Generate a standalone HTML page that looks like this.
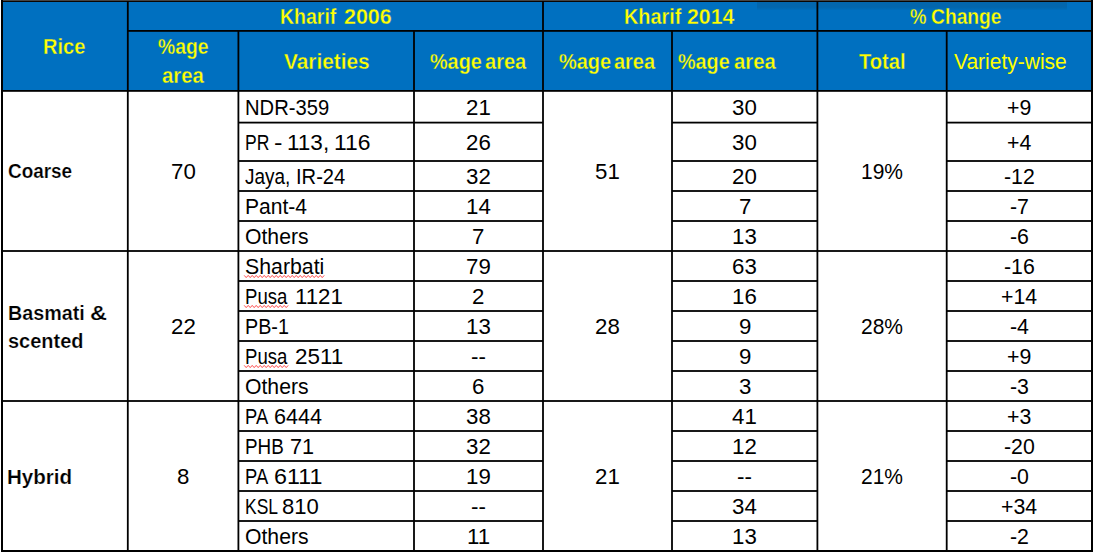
<!DOCTYPE html>
<html lang="en"><head><meta charset="utf-8"><title>Rice varieties table</title>
<style>
html,body{margin:0;padding:0;background:#fff;}
body{width:1095px;height:555px;position:relative;overflow:hidden;font-family:"Liberation Sans",sans-serif;}
#hdr{position:absolute;left:2px;top:1px;width:1090px;height:90px;background:#0070C0;}
#grid{position:absolute;left:0;top:0;}
.t{position:absolute;white-space:nowrap;line-height:normal;transform-origin:0 0;margin:0;padding:0;}
.A{font-weight:bold;font-size:21.5px;color:#FFFF00;-webkit-text-stroke:0.35px #0070C0;}
.B{font-weight:normal;font-size:21.5px;color:#FFFF00;}
.C{font-weight:bold;font-size:19.4px;color:#000;-webkit-text-stroke:0.2px #fff;}
.D{font-weight:normal;font-size:21.5px;color:#000;}
</style></head><body>
<div id="hdr"></div>
<svg id="grid" width="1095" height="555" viewBox="0 0 1095 555">
<defs><linearGradient id="sh" x1="0" y1="0" x2="0" y2="1"><stop offset="0" stop-color="#1a1a10" stop-opacity="0.11"/><stop offset="1" stop-color="#000" stop-opacity="0"/></linearGradient></defs>
<rect x="757" y="0" width="310" height="7" fill="#1a1a10" fill-opacity="0.11"/><rect x="757" y="7" width="310" height="3.5" fill="url(#sh)"/>
<rect x="1" y="0" width="1092" height="1" fill="#444"/>
<rect x="1" y="1" width="1092" height="1" fill="#0a0502"/>
<rect x="1.00" y="0.00" width="2.00" height="552.00" fill="#000"/>
<rect x="1091.00" y="0.00" width="2.00" height="552.00" fill="#000"/>
<rect x="1.00" y="550.00" width="1092.00" height="2.00" fill="#000"/>
<rect x="127.80" y="30.00" width="964.20" height="1.80" fill="#000"/>
<rect x="2.00" y="90.00" width="1090.00" height="1.80" fill="#000"/>
<rect x="126.90" y="1.00" width="1.80" height="550.00" fill="#000"/>
<rect x="542.10" y="1.00" width="1.80" height="550.00" fill="#000"/>
<rect x="816.50" y="1.00" width="1.80" height="550.00" fill="#000"/>
<rect x="237.50" y="30.90" width="1.80" height="520.10" fill="#000"/>
<rect x="413.10" y="30.90" width="1.80" height="520.10" fill="#000"/>
<rect x="671.10" y="30.90" width="1.80" height="520.10" fill="#000"/>
<rect x="945.80" y="30.90" width="1.80" height="520.10" fill="#000"/>
<rect x="2.00" y="250.10" width="1090.00" height="1.80" fill="#000"/>
<rect x="2.00" y="400.10" width="1090.00" height="1.80" fill="#000"/>
<rect x="238.40" y="121.70" width="304.60" height="1.80" fill="#000"/>
<rect x="672.00" y="121.70" width="145.40" height="1.80" fill="#000"/>
<rect x="946.70" y="121.70" width="145.30" height="1.80" fill="#000"/>
<rect x="238.40" y="160.10" width="304.60" height="1.80" fill="#000"/>
<rect x="672.00" y="160.10" width="145.40" height="1.80" fill="#000"/>
<rect x="946.70" y="160.10" width="145.30" height="1.80" fill="#000"/>
<rect x="238.40" y="190.10" width="304.60" height="1.80" fill="#000"/>
<rect x="672.00" y="190.10" width="145.40" height="1.80" fill="#000"/>
<rect x="946.70" y="190.10" width="145.30" height="1.80" fill="#000"/>
<rect x="238.40" y="220.10" width="304.60" height="1.80" fill="#000"/>
<rect x="672.00" y="220.10" width="145.40" height="1.80" fill="#000"/>
<rect x="946.70" y="220.10" width="145.30" height="1.80" fill="#000"/>
<rect x="238.40" y="280.10" width="304.60" height="1.80" fill="#000"/>
<rect x="672.00" y="280.10" width="145.40" height="1.80" fill="#000"/>
<rect x="946.70" y="280.10" width="145.30" height="1.80" fill="#000"/>
<rect x="238.40" y="310.10" width="304.60" height="1.80" fill="#000"/>
<rect x="672.00" y="310.10" width="145.40" height="1.80" fill="#000"/>
<rect x="946.70" y="310.10" width="145.30" height="1.80" fill="#000"/>
<rect x="238.40" y="340.10" width="304.60" height="1.80" fill="#000"/>
<rect x="672.00" y="340.10" width="145.40" height="1.80" fill="#000"/>
<rect x="946.70" y="340.10" width="145.30" height="1.80" fill="#000"/>
<rect x="238.40" y="370.10" width="304.60" height="1.80" fill="#000"/>
<rect x="672.00" y="370.10" width="145.40" height="1.80" fill="#000"/>
<rect x="946.70" y="370.10" width="145.30" height="1.80" fill="#000"/>
<rect x="238.40" y="430.10" width="304.60" height="1.80" fill="#000"/>
<rect x="672.00" y="430.10" width="145.40" height="1.80" fill="#000"/>
<rect x="946.70" y="430.10" width="145.30" height="1.80" fill="#000"/>
<rect x="238.40" y="460.10" width="304.60" height="1.80" fill="#000"/>
<rect x="672.00" y="460.10" width="145.40" height="1.80" fill="#000"/>
<rect x="946.70" y="460.10" width="145.30" height="1.80" fill="#000"/>
<rect x="238.40" y="490.10" width="304.60" height="1.80" fill="#000"/>
<rect x="672.00" y="490.10" width="145.40" height="1.80" fill="#000"/>
<rect x="946.70" y="490.10" width="145.30" height="1.80" fill="#000"/>
<rect x="238.40" y="520.10" width="304.60" height="1.80" fill="#000"/>
<rect x="672.00" y="520.10" width="145.40" height="1.80" fill="#000"/>
<rect x="946.70" y="520.10" width="145.30" height="1.80" fill="#000"/>
<polyline points="244.2,275.4 246.2,277.6 248.2,275.4 250.2,277.6 252.2,275.4 254.2,277.6 256.2,275.4 258.2,277.6 260.2,275.4 262.2,277.6 264.2,275.4 266.2,277.6 268.2,275.4 270.2,277.6 272.2,275.4 274.2,277.6 276.2,275.4 278.2,277.6 280.2,275.4 282.2,277.6 284.2,275.4 286.2,277.6 288.2,275.4 290.2,277.6 292.2,275.4 294.2,277.6 296.2,275.4 298.2,277.6 300.2,275.4 302.2,277.6 304.2,275.4 306.2,277.6 308.2,275.4 310.2,277.6 312.2,275.4 314.2,277.6 316.2,275.4 318.2,277.6 320.2,275.4 322.2,277.6 324.2,275.4" fill="none" stroke="#ff2b2b" stroke-width="0.85" stroke-linejoin="round"/>
<polyline points="244.2,305.4 246.2,307.6 248.2,305.4 250.2,307.6 252.2,305.4 254.2,307.6 256.2,305.4 258.2,307.6 260.2,305.4 262.2,307.6 264.2,305.4 266.2,307.6 268.2,305.4 270.2,307.6 272.2,305.4 274.2,307.6 276.2,305.4 278.2,307.6 280.2,305.4 282.2,307.6 284.2,305.4 286.2,307.6 288.2,305.4" fill="none" stroke="#ff2b2b" stroke-width="0.85" stroke-linejoin="round"/>
<polyline points="244.2,365.4 246.2,367.6 248.2,365.4 250.2,367.6 252.2,365.4 254.2,367.6 256.2,365.4 258.2,367.6 260.2,365.4 262.2,367.6 264.2,365.4 266.2,367.6 268.2,365.4 270.2,367.6 272.2,365.4 274.2,367.6 276.2,365.4 278.2,367.6 280.2,365.4 282.2,367.6 284.2,365.4 286.2,367.6 288.2,365.4" fill="none" stroke="#ff2b2b" stroke-width="0.85" stroke-linejoin="round"/>
</svg>
<span class="t A" style="left:279.79px;top:5.00px;transform:scaleX(0.9074)">Kharif</span>
<span class="t A" style="left:343.56px;top:5.00px;transform:scaleX(0.9977)">2006</span>
<span class="t A" style="left:624.07px;top:5.00px;transform:scaleX(0.9223)">Kharif</span>
<span class="t A" style="left:687.26px;top:5.00px;transform:scaleX(0.9879)">2014</span>
<span class="t A" style="left:909.64px;top:5.00px;transform:scaleX(0.8604)">%</span>
<span class="t A" style="left:930.71px;top:5.00px;transform:scaleX(0.8948)">Change</span>
<span class="t A" style="left:43.26px;top:35.00px;transform:scaleX(0.9320)">Rice</span>
<span class="t A" style="left:157.62px;top:35.30px;transform:scaleX(0.8981)">%age</span>
<span class="t A" style="left:161.51px;top:63.60px;transform:scaleX(0.9441)">area</span>
<span class="t A" style="left:284.36px;top:50.00px;transform:scaleX(0.9688)">Varieties</span>
<span class="t A" style="left:429.71px;top:50.00px;transform:scaleX(0.9218)">%age</span>
<span class="t A" style="left:485.11px;top:50.00px;transform:scaleX(0.9304)">area</span>
<span class="t A" style="left:558.70px;top:50.00px;transform:scaleX(0.9291)">%age</span>
<span class="t A" style="left:614.12px;top:50.00px;transform:scaleX(0.9281)">area</span>
<span class="t A" style="left:678.41px;top:50.00px;transform:scaleX(0.9200)">%age</span>
<span class="t A" style="left:733.81px;top:50.00px;transform:scaleX(0.9418)">area</span>
<span class="t A" style="left:859.27px;top:50.00px;transform:scaleX(0.9355)">Total</span>
<span class="t B" style="left:953.61px;top:50.00px;transform:scaleX(0.9761)">Variety-wise</span>
<span class="t C" style="left:7.72px;top:160.30px;transform:scaleX(0.9753)">Coarse</span>
<span class="t C" style="left:7.78px;top:301.70px;transform:scaleX(1.0183)">Basmati</span>
<span class="t C" style="left:90.37px;top:301.70px;transform:scaleX(1.2117)">&amp;</span>
<span class="t C" style="left:7.90px;top:329.80px;transform:scaleX(1.0291)">scented</span>
<span class="t C" style="left:7.42px;top:465.70px;transform:scaleX(1.0606)">Hybrid</span>
<span class="t D" style="left:244.94px;top:96.10px;transform:scaleX(0.9386)">NDR-359</span>
<span class="t D" style="left:466.12px;top:96.10px;transform:scaleX(1.0350)">21</span>
<span class="t D" style="left:732.32px;top:96.10px;transform:scaleX(1.0350)">30</span>
<span class="t D" style="left:1007.22px;top:96.10px;transform:scaleX(0.9900)">+9</span>
<span class="t D" style="left:244.86px;top:130.60px;transform:scaleX(0.8153)">PR</span>
<span class="t D" style="left:274.17px;top:130.60px;transform:scaleX(1.1812)">-</span>
<span class="t D" style="left:286.79px;top:130.60px;transform:scaleX(1.0469)">113,</span>
<span class="t D" style="left:334.06px;top:130.60px;transform:scaleX(1.0633)">116</span>
<span class="t D" style="left:466.12px;top:130.60px;transform:scaleX(1.0350)">26</span>
<span class="t D" style="left:732.32px;top:130.60px;transform:scaleX(1.0350)">30</span>
<span class="t D" style="left:1007.22px;top:130.60px;transform:scaleX(0.9900)">+4</span>
<span class="t D" style="left:244.90px;top:164.80px;transform:scaleX(0.8815)">Jaya,</span>
<span class="t D" style="left:295.64px;top:164.80px;transform:scaleX(0.9367)">IR-24</span>
<span class="t D" style="left:466.12px;top:164.80px;transform:scaleX(1.0350)">32</span>
<span class="t D" style="left:732.32px;top:164.80px;transform:scaleX(1.0350)">20</span>
<span class="t D" style="left:1003.97px;top:164.80px;transform:scaleX(0.9900)">-12</span>
<span class="t D" style="left:244.77px;top:194.80px;transform:scaleX(0.9795)">Pant-4</span>
<span class="t D" style="left:466.12px;top:194.80px;transform:scaleX(1.0350)">14</span>
<span class="t D" style="left:738.51px;top:194.80px;transform:scaleX(1.0350)">7</span>
<span class="t D" style="left:1009.89px;top:194.80px;transform:scaleX(0.9900)">-7</span>
<span class="t D" style="left:244.70px;top:224.80px;transform:scaleX(0.9852)">Others</span>
<span class="t D" style="left:472.31px;top:224.80px;transform:scaleX(1.0350)">7</span>
<span class="t D" style="left:732.32px;top:224.80px;transform:scaleX(1.0350)">13</span>
<span class="t D" style="left:1009.89px;top:224.80px;transform:scaleX(0.9900)">-6</span>
<span class="t D" style="left:244.63px;top:254.80px;transform:scaleX(0.9903)">Sharbati</span>
<span class="t D" style="left:466.12px;top:254.80px;transform:scaleX(1.0350)">79</span>
<span class="t D" style="left:732.32px;top:254.80px;transform:scaleX(1.0350)">63</span>
<span class="t D" style="left:1003.97px;top:254.80px;transform:scaleX(0.9900)">-16</span>
<span class="t D" style="left:244.98px;top:284.80px;transform:scaleX(0.8637)">Pusa</span>
<span class="t D" style="left:295.21px;top:284.80px;transform:scaleX(1.0334)">1121</span>
<span class="t D" style="left:472.31px;top:284.80px;transform:scaleX(1.0350)">2</span>
<span class="t D" style="left:732.32px;top:284.80px;transform:scaleX(1.0350)">16</span>
<span class="t D" style="left:1001.30px;top:284.80px;transform:scaleX(0.9900)">+14</span>
<span class="t D" style="left:244.88px;top:314.80px;transform:scaleX(0.9181)">PB-1</span>
<span class="t D" style="left:466.12px;top:314.80px;transform:scaleX(1.0350)">13</span>
<span class="t D" style="left:738.51px;top:314.80px;transform:scaleX(1.0350)">9</span>
<span class="t D" style="left:1009.89px;top:314.80px;transform:scaleX(0.9900)">-4</span>
<span class="t D" style="left:244.98px;top:344.80px;transform:scaleX(0.8637)">Pusa</span>
<span class="t D" style="left:294.77px;top:344.80px;transform:scaleX(1.0430)">2511</span>
<span class="t D" style="left:471.05px;top:344.80px;transform:scaleX(1.0400)">--</span>
<span class="t D" style="left:738.51px;top:344.80px;transform:scaleX(1.0350)">9</span>
<span class="t D" style="left:1007.22px;top:344.80px;transform:scaleX(0.9900)">+9</span>
<span class="t D" style="left:244.70px;top:374.80px;transform:scaleX(0.9852)">Others</span>
<span class="t D" style="left:472.31px;top:374.80px;transform:scaleX(1.0350)">6</span>
<span class="t D" style="left:738.51px;top:374.80px;transform:scaleX(1.0350)">3</span>
<span class="t D" style="left:1009.89px;top:374.80px;transform:scaleX(0.9900)">-3</span>
<span class="t D" style="left:244.99px;top:404.80px;transform:scaleX(0.8545)">PA</span>
<span class="t D" style="left:273.90px;top:404.80px;transform:scaleX(1.0042)">6444</span>
<span class="t D" style="left:466.12px;top:404.80px;transform:scaleX(1.0350)">38</span>
<span class="t D" style="left:732.32px;top:404.80px;transform:scaleX(1.0350)">41</span>
<span class="t D" style="left:1007.22px;top:404.80px;transform:scaleX(0.9900)">+3</span>
<span class="t D" style="left:244.95px;top:434.80px;transform:scaleX(0.8763)">PHB</span>
<span class="t D" style="left:289.79px;top:434.80px;transform:scaleX(1.0063)">71</span>
<span class="t D" style="left:466.12px;top:434.80px;transform:scaleX(1.0350)">32</span>
<span class="t D" style="left:732.32px;top:434.80px;transform:scaleX(1.0350)">12</span>
<span class="t D" style="left:1003.97px;top:434.80px;transform:scaleX(0.9900)">-20</span>
<span class="t D" style="left:244.99px;top:464.80px;transform:scaleX(0.8545)">PA</span>
<span class="t D" style="left:273.82px;top:464.80px;transform:scaleX(1.0825)">6111</span>
<span class="t D" style="left:466.12px;top:464.80px;transform:scaleX(1.0350)">19</span>
<span class="t D" style="left:737.25px;top:464.80px;transform:scaleX(1.0400)">--</span>
<span class="t D" style="left:1009.89px;top:464.80px;transform:scaleX(0.9900)">-0</span>
<span class="t D" style="left:245.07px;top:494.80px;transform:scaleX(0.8124)">KSL</span>
<span class="t D" style="left:281.74px;top:494.80px;transform:scaleX(1.0265)">810</span>
<span class="t D" style="left:471.05px;top:494.80px;transform:scaleX(1.0400)">--</span>
<span class="t D" style="left:732.32px;top:494.80px;transform:scaleX(1.0350)">34</span>
<span class="t D" style="left:1001.30px;top:494.80px;transform:scaleX(0.9900)">+34</span>
<span class="t D" style="left:244.70px;top:524.80px;transform:scaleX(0.9852)">Others</span>
<span class="t D" style="left:466.95px;top:524.80px;transform:scaleX(1.0350)">11</span>
<span class="t D" style="left:732.32px;top:524.80px;transform:scaleX(1.0350)">13</span>
<span class="t D" style="left:1009.89px;top:524.80px;transform:scaleX(0.9900)">-2</span>
<span class="t D" style="left:170.72px;top:159.85px;transform:scaleX(1.0350)">70</span>
<span class="t D" style="left:595.12px;top:159.85px;transform:scaleX(1.0350)">51</span>
<span class="t D" style="left:861.03px;top:159.85px;transform:scaleX(0.9770)">19%</span>
<span class="t D" style="left:170.72px;top:314.90px;transform:scaleX(1.0350)">22</span>
<span class="t D" style="left:595.12px;top:314.90px;transform:scaleX(1.0350)">28</span>
<span class="t D" style="left:861.03px;top:314.90px;transform:scaleX(0.9770)">28%</span>
<span class="t D" style="left:176.91px;top:464.90px;transform:scaleX(1.0350)">8</span>
<span class="t D" style="left:595.12px;top:464.90px;transform:scaleX(1.0350)">21</span>
<span class="t D" style="left:861.03px;top:464.90px;transform:scaleX(0.9770)">21%</span>
</body></html>
